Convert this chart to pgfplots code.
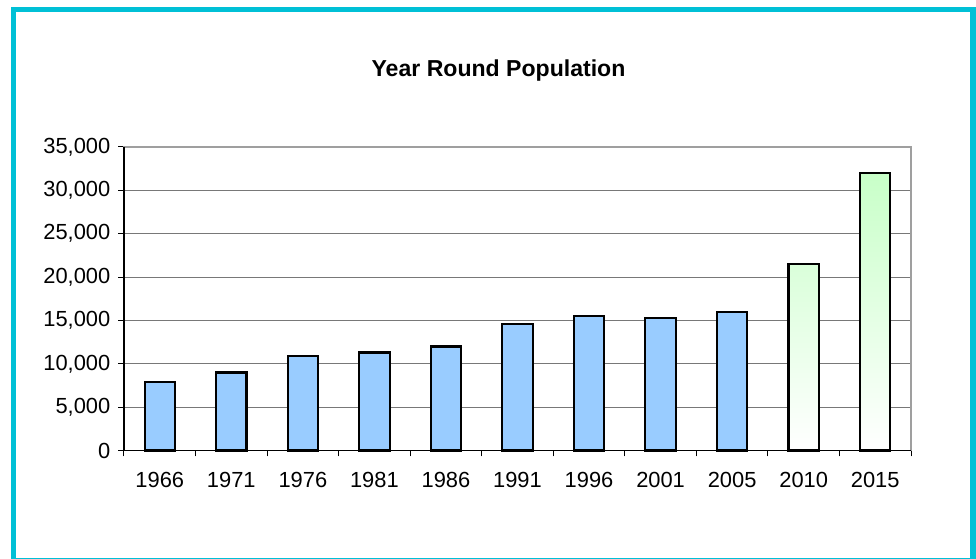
\documentclass[border=0pt]{standalone}
\usepackage{fontspec}
\setmainfont{Liberation Sans}
\usepackage{pgfplots}
\pgfplotsset{compat=1.18}
\definecolor{framecol}{RGB}{0,192,214}
\definecolor{barblue}{RGB}{153,204,255}
\definecolor{bargreen}{RGB}{200,255,200}
\definecolor{gridgray}{RGB}{120,120,120}
\begin{document}
\begin{tikzpicture}[x=0.75pt,y=0.75pt]
\useasboundingbox (0,0) rectangle (976,559);
\draw[framecol, line width=3.9pt] (13.5,-1.2) rectangle (973,549.5);
\node[anchor=base, font=\bfseries\fontsize{17.3}{20}\selectfont] at (498.5,482.3) {Year Round Population};
\begin{axis}[
  at={(93pt,81.375pt)}, anchor=south west,
  scale only axis, width=590.25pt, height=227.625pt,
  xmin=-0.5, xmax=10.5, ymin=0, ymax=35000,
  ytick={0,5000,...,35000},
  xtick={0,...,10},
  xticklabels={1966,1971,1976,1981,1986,1991,1996,2001,2005,2010,2015},
  minor xtick={-0.5,0.5,...,10.5},
  tick align=outside, tick pos=left,
  major tick length=4.5pt, minor tick length=4.5pt,
  major x tick style={draw=none},
  tick style={black, line width=0.75pt},
  ymajorgrids,
  grid style={gridgray, line width=0.75pt},
  axis line style={gray!75, line width=1pt},
  ticklabel style={font=\fontsize{16.4}{19}\selectfont},
  xticklabel style={yshift=-8.25pt},
  yticklabel style={xshift=-2.25pt},
  scaled y ticks=false,
  /pgf/number format/1000 sep={,},
  /pgf/number format/assume math mode=true,
  clip=false,
]
\addplot[ybar, bar shift=0pt, bar width=22.8pt, fill=barblue, draw=black, line width=1.6pt]
  coordinates {(0,7900)(1,9000)(2,10900)(3,11300)(4,12000)(5,14600)(6,15500)(7,15300)(8,16000)};
\addplot[ybar, bar shift=0pt, bar width=22.8pt, top color=bargreen, bottom color=white, draw=black, line width=1.6pt]
  coordinates {(9,21500)(10,32000)};
\draw[gray!75, line width=1pt] (rel axis cs:0,1) -- (rel axis cs:1,1) -- (rel axis cs:1,0);
\draw[black, line width=1pt] (rel axis cs:0,1) -- (rel axis cs:0,0) -- (rel axis cs:1,0);
\end{axis}
\end{tikzpicture}
\end{document}
